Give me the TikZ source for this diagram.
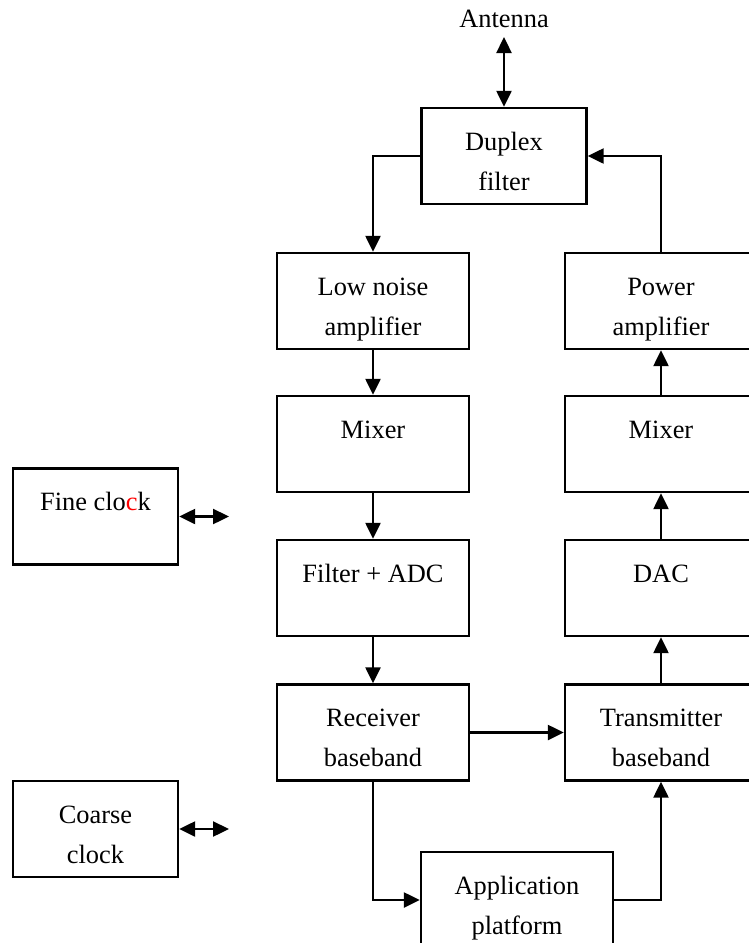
\documentclass[tikz,border=0pt]{standalone}
\usepackage{fontspec}
\setmainfont{Liberation Serif}
\usetikzlibrary{arrows.meta}

\begin{document}
\begin{tikzpicture}[x=0.5pt, y=-0.5pt, line width=1.2pt,
        block/.style={draw, minimum width=96pt, minimum height=48pt, inner sep=2pt,
            align=center, text height=38pt, text depth=4pt, font=\fontsize{13.2}{20}\selectfont},
        narrow/.style={block, minimum width=82.5pt},
        arr/.style={-{Triangle[length=8pt,width=7.5pt]}},
        dblarr/.style={{Triangle[length=8pt,width=7.5pt]}-{Triangle[length=8pt,width=7.5pt]}}]
        \useasboundingbox (0,0) rectangle (749,943);

        % Nodes
        \node[anchor=south, inner sep=4pt, font=\fontsize{13.2}{20}\selectfont] at (504, 37) (antenna) {Antenna};
        \node[narrow] at (504, 156)   (duplex) {Duplex\\filter};

        \node[block] at (373, 301)   (lna)    {Low noise\\amplifier};
        \node[block] at (373, 444)   (mixrx)  {Mixer\\\mbox{}};
        \node[block] at (373, 588)   (adc)    {Filter + ADC\\\mbox{}};
        \node[block] at (373, 732.5) (rxbb)   {Receiver\\baseband};

        \node[block] at (661, 301)   (pa)     {Power\\amplifier};
        \node[block] at (661, 444)   (mixtx)  {Mixer\\\mbox{}};
        \node[block] at (661, 588)   (dac)    {DAC\\\mbox{}};
        \node[block] at (661, 732.5) (txbb)   {Transmitter\\baseband};

        \node[block] at (517, 900)   (app)    {Application\\platform};

        \node[narrow] at (95.5, 516.5) (fine)   {Fine clo\textcolor{red}{c}k\\\mbox{}};
        \node[narrow] at (95.5, 829)   (coarse) {Coarse\\clock};
        \coordinate (finetip)   at (229, 516.5);
        \coordinate (coarsetip) at (229, 829);

        % Receive chain
        \draw[dblarr] (antenna.south) -- (duplex.north);
        \draw[arr] (duplex.west) -| (lna.north);
        \draw[arr] (lna) -- (mixrx);
        \draw[arr] (mixrx) -- (adc);
        \draw[arr] (adc) -- (rxbb);

        % Transmit chain
        \draw[arr] (txbb) -- (dac);
        \draw[arr] (dac) -- (mixtx);
        \draw[arr] (mixtx) -- (pa);
        \draw[arr] (pa.north) |- (duplex.east);

        % Baseband
        \draw[arr] (rxbb) -- (txbb);
        \draw[arr] (rxbb.south) |- (app.west);
        \draw[arr] (app.east) -| (txbb.south);

        % Clocks
        \draw[dblarr] (fine.east) -- (finetip);
        \draw[dblarr] (coarse.east) -- (coarsetip);
    \end{tikzpicture}
\end{document}
